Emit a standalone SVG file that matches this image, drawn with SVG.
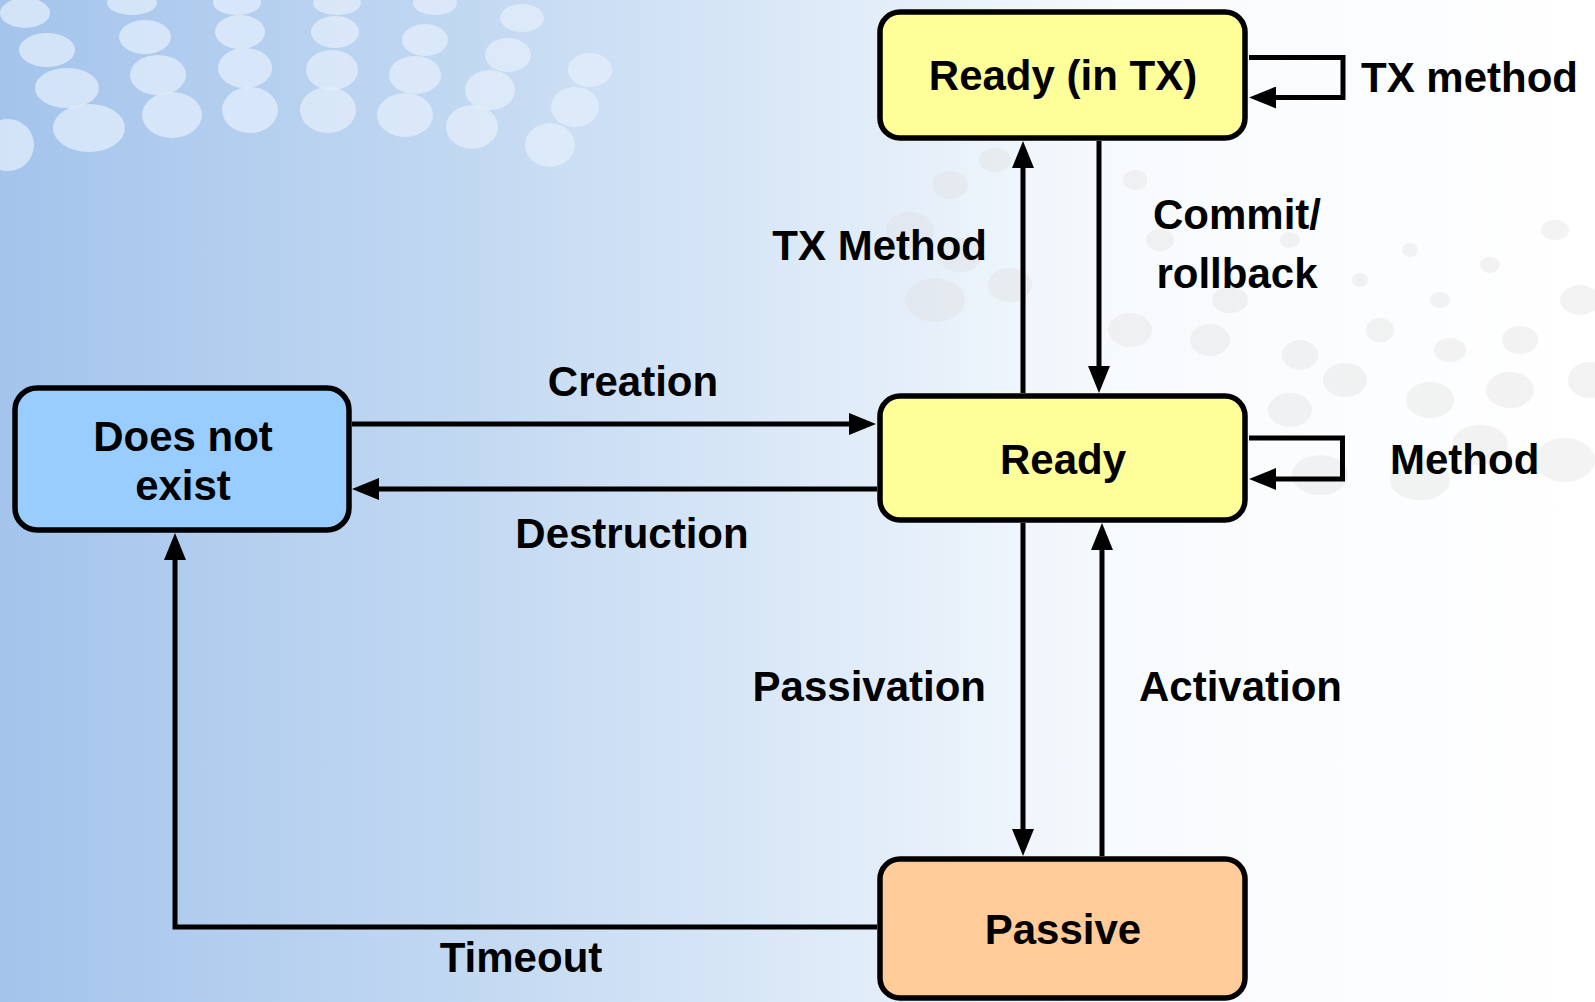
<svg xmlns="http://www.w3.org/2000/svg" width="1595" height="1002" viewBox="0 0 1595 1002">
<defs>
<linearGradient id="bg" x1="0" y1="0" x2="1" y2="0">
<stop offset="0" stop-color="#a4c4ec"/>
<stop offset="0.3" stop-color="#c3d9f2"/>
<stop offset="0.55" stop-color="#e2edf9"/>
<stop offset="0.7" stop-color="#f7fafd"/>
<stop offset="1" stop-color="#ffffff"/>
</linearGradient>
<marker id="arr" markerWidth="27" markerHeight="22" refX="19" refY="11" orient="auto" markerUnits="userSpaceOnUse">
<path d="M0,0 L27,11 L0,22 z" fill="#000"/>
</marker>
<style>
.node rect{stroke:#000;stroke-width:5.5}
.lbl{font-family:"Liberation Sans",Arial,Helvetica,sans-serif;font-weight:bold;font-size:42px;fill:#000}
.mid{text-anchor:middle}
.end{text-anchor:end}
#connectors path{fill:none;stroke:#000;stroke-width:5;stroke-linejoin:miter;marker-end:url(#arr)}
.bub{fill:#e3eefb;opacity:0.75}
.gd{fill:#dcdcdc;opacity:0.35}
</style>
</defs>
<rect x="0" y="0" width="1595" height="1002" fill="url(#bg)"/>
<g id="background-dots">
<ellipse class="bub" cx="25" cy="13" rx="25" ry="15"/>
<ellipse class="bub" cx="47" cy="50" rx="28" ry="17"/>
<ellipse class="bub" cx="67" cy="88" rx="32" ry="20"/>
<ellipse class="bub" cx="89" cy="128" rx="36" ry="24"/>
<ellipse class="bub" cx="8" cy="145" rx="26" ry="26"/>
<ellipse class="bub" cx="132" cy="3" rx="25" ry="12"/>
<ellipse class="bub" cx="145" cy="37" rx="26" ry="17"/>
<ellipse class="bub" cx="158" cy="75" rx="28" ry="20"/>
<ellipse class="bub" cx="172" cy="115" rx="30" ry="23"/>
<ellipse class="bub" cx="237" cy="3" rx="24" ry="12"/>
<ellipse class="bub" cx="240" cy="32" rx="25" ry="17"/>
<ellipse class="bub" cx="245" cy="68" rx="27" ry="20"/>
<ellipse class="bub" cx="250" cy="110" rx="28" ry="23"/>
<ellipse class="bub" cx="337" cy="3" rx="24" ry="12"/>
<ellipse class="bub" cx="335" cy="32" rx="24" ry="16"/>
<ellipse class="bub" cx="332" cy="70" rx="26" ry="20"/>
<ellipse class="bub" cx="328" cy="110" rx="28" ry="23"/>
<ellipse class="bub" cx="435" cy="3" rx="22" ry="12"/>
<ellipse class="bub" cx="425" cy="40" rx="23" ry="16"/>
<ellipse class="bub" cx="415" cy="75" rx="26" ry="19"/>
<ellipse class="bub" cx="405" cy="115" rx="28" ry="22"/>
<ellipse class="bub" cx="522" cy="18" rx="22" ry="14" opacity="0.5"/>
<ellipse class="bub" cx="508" cy="55" rx="23" ry="17" opacity="0.5"/>
<ellipse class="bub" cx="490" cy="90" rx="25" ry="20" opacity="0.5"/>
<ellipse class="bub" cx="472" cy="127" rx="26" ry="22" opacity="0.5"/>
<ellipse class="bub" cx="590" cy="70" rx="22" ry="17" opacity="0.35"/>
<ellipse class="bub" cx="575" cy="107" rx="24" ry="20" opacity="0.35"/>
<ellipse class="bub" cx="550" cy="145" rx="25" ry="22" opacity="0.35"/>
<ellipse class="gd" cx="950" cy="185" rx="18" ry="14"/>
<ellipse class="gd" cx="995" cy="160" rx="16" ry="12"/>
<ellipse class="gd" cx="910" cy="230" rx="24" ry="18"/>
<ellipse class="gd" cx="960" cy="255" rx="22" ry="17"/>
<ellipse class="gd" cx="935" cy="300" rx="30" ry="22"/>
<ellipse class="gd" cx="1010" cy="285" rx="22" ry="17"/>
<ellipse class="gd" cx="1135" cy="180" rx="12" ry="10"/>
<ellipse class="gd" cx="1160" cy="240" rx="14" ry="11"/>
<ellipse class="gd" cx="1230" cy="300" rx="18" ry="13"/>
<ellipse class="gd" cx="1130" cy="330" rx="22" ry="17"/>
<ellipse class="gd" cx="1210" cy="340" rx="20" ry="16"/>
<ellipse class="gd" cx="1300" cy="355" rx="18" ry="15"/>
<ellipse class="gd" cx="1380" cy="330" rx="14" ry="12"/>
<ellipse class="gd" cx="1440" cy="300" rx="10" ry="8"/>
<ellipse class="gd" cx="1490" cy="265" rx="10" ry="8"/>
<ellipse class="gd" cx="1555" cy="230" rx="14" ry="10"/>
<ellipse class="gd" cx="1450" cy="350" rx="16" ry="12"/>
<ellipse class="gd" cx="1520" cy="340" rx="18" ry="14"/>
<ellipse class="gd" cx="1580" cy="300" rx="20" ry="15"/>
<ellipse class="gd" cx="1345" cy="380" rx="22" ry="17"/>
<ellipse class="gd" cx="1430" cy="400" rx="24" ry="18"/>
<ellipse class="gd" cx="1510" cy="390" rx="24" ry="18"/>
<ellipse class="gd" cx="1590" cy="380" rx="22" ry="18"/>
<ellipse class="gd" cx="1290" cy="410" rx="22" ry="17"/>
<ellipse class="gd" cx="1480" cy="445" rx="28" ry="20"/>
<ellipse class="gd" cx="1565" cy="460" rx="30" ry="22"/>
<ellipse class="gd" cx="1420" cy="480" rx="30" ry="20"/>
<ellipse class="gd" cx="1320" cy="475" rx="28" ry="20"/>
<ellipse class="gd" cx="1290" cy="240" rx="10" ry="8"/>
<ellipse class="gd" cx="1360" cy="280" rx="8" ry="7"/>
<ellipse class="gd" cx="1410" cy="250" rx="8" ry="7"/>
</g>
<g id="connectors">
<path d="M1023,393 L1023,149"/>
<path d="M1099,141 L1099,385"/>
<path d="M352,424 L868,424"/>
<path d="M877,489 L360,489"/>
<path d="M1023,523 L1023,848"/>
<path d="M1102,856 L1102,531"/>
<path d="M877,927 L175,927 L175,541"/>
<path d="M1249,57.5 L1343,57.5 L1343,97.5 L1257,97.5"/>
<path d="M1249,438 L1342.5,438 L1342.5,479 L1257,479"/>
</g>
<g id="node-ready-tx" class="node">
<rect x="880" y="12" width="365" height="126" rx="20" fill="#ffff99"/>
<text class="lbl mid" x="1063" y="90">Ready (in TX)</text>
</g>
<g id="node-ready" class="node">
<rect x="880" y="396" width="365" height="124" rx="20" fill="#ffff99"/>
<text class="lbl mid" x="1063" y="474">Ready</text>
</g>
<g id="node-does-not-exist" class="node">
<rect x="15" y="388" width="334" height="142" rx="22" fill="#99ccff"/>
<text class="lbl mid" x="183" y="451">Does not</text>
<text class="lbl mid" x="183" y="500">exist</text>
</g>
<g id="node-passive" class="node">
<rect x="880" y="859" width="365" height="139" rx="20" fill="#ffcc99"/>
<text class="lbl mid" x="1063" y="944">Passive</text>
</g>
<g id="labels">
<text class="lbl" x="1361" y="92">TX method</text>
<text class="lbl end" x="987" y="260">TX Method</text>
<text class="lbl mid" x="1237" y="229">Commit/</text>
<text class="lbl mid" x="1237" y="288">rollback</text>
<text class="lbl mid" x="633" y="396">Creation</text>
<text class="lbl mid" x="632" y="548">Destruction</text>
<text class="lbl" x="1390" y="474">Method</text>
<text class="lbl end" x="986" y="701">Passivation</text>
<text class="lbl" x="1139" y="701">Activation</text>
<text class="lbl mid" x="521" y="972">Timeout</text>
</g>
</svg>
